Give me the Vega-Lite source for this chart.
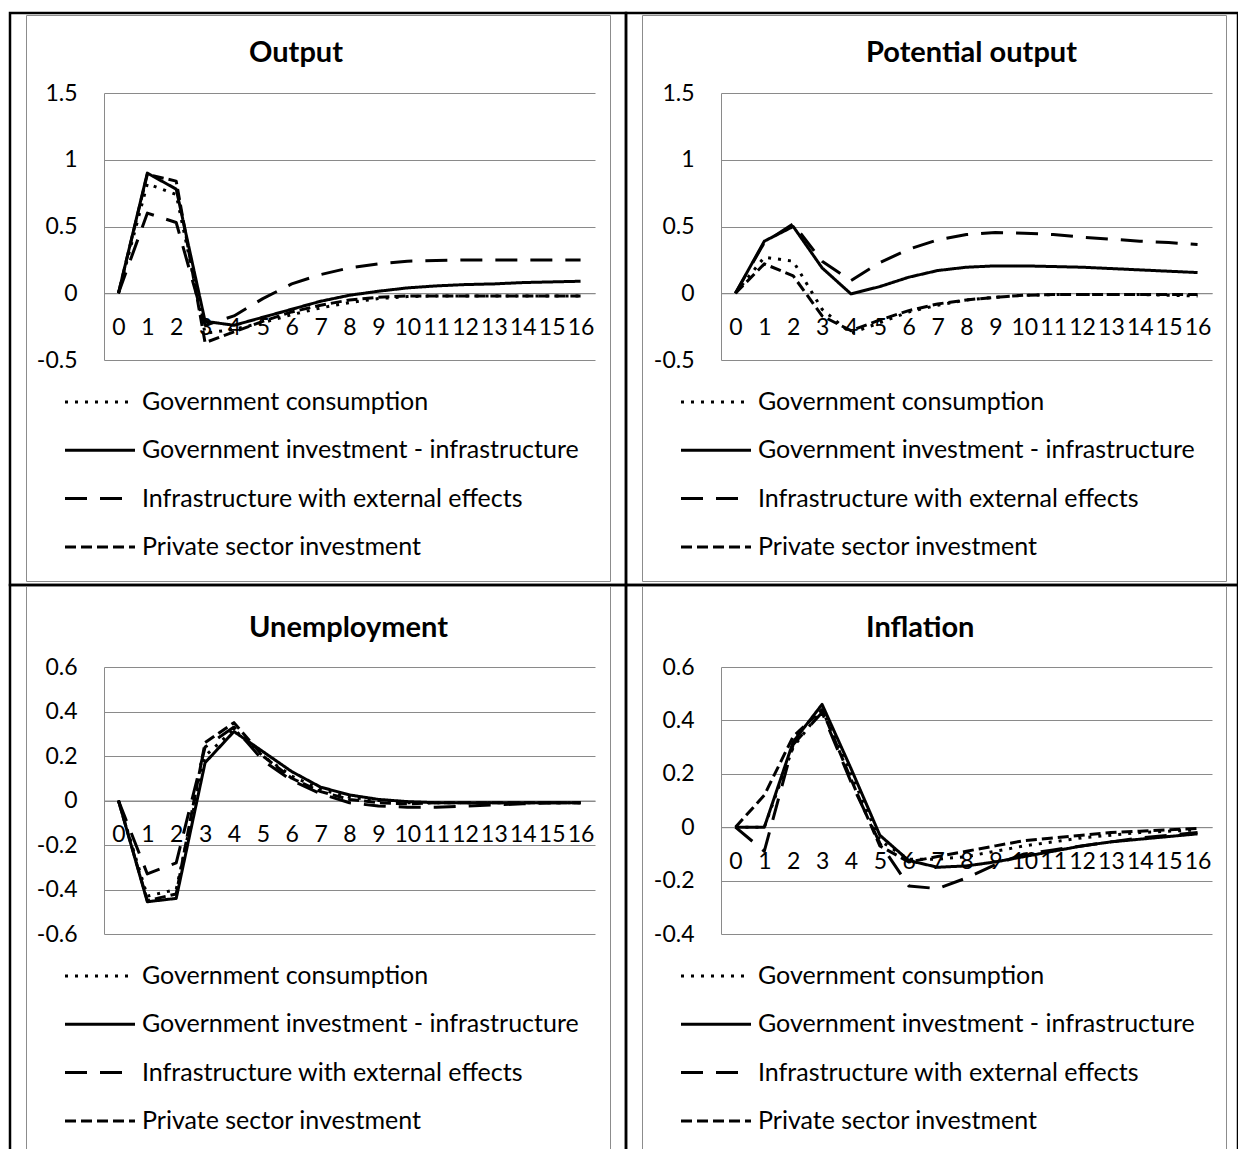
{
  "$schema": "https://vega.github.io/schema/vega-lite/v6.json",
  "padding": {"left": 8, "top": 11, "right": 0, "bottom": 0},
  "background": "white",
  "bounds": "flush",
  "spacing": 0,
  "columns": 2,
  "resolve": {"scale": {"strokeDash": "independent"}, "legend": {"strokeDash": "independent"}},
  "config": {
    "font": "Lato",
    "view": {"stroke": "black", "strokeWidth": 2.5},
    "concat": {"spacing": 0},
    "line": {"color": "black", "strokeWidth": 3, "strokeJoin": "round", "strokeCap": "butt"},
    "axis": {"title": null, "ticks": false, "tickSize": 0, "domainColor": "#8a8a8a", "domainWidth": 1, "gridColor": "#8a8a8a", "gridWidth": 1, "labelFont": "Lato", "labelFontSize": 23, "labelColor": "black", "labelOverlap": false, "labelFlush": false, "labelBound": false},
    "axisX": {"grid": false, "labelPadding": 23},
    "axisY": {"grid": true, "labelPadding": 27},
    "title": {"font": "Lato", "fontSize": 29, "fontWeight": "bold", "color": "black", "anchor": "start", "frame": "group", "baseline": "middle", "offset": 0},
    "legend": {"orient": "none", "direction": "vertical", "padding": 21, "strokeColor": "#8c8c8c", "symbolType": "M-1.4,0L1.4,0M19.48,0", "symbolSize": 2500, "symbolStrokeWidth": 3, "symbolStrokeColor": "black", "symbolOffset": 26.5, "labelFont": "Lato", "labelFontSize": 25, "labelColor": "black", "labelOffset": 15.5, "labelLimit": 700, "titleFontSize": 30}
  },
  "data": {"values": [
    {"panel":"Output","series":"Government consumption","t":0,"value":0},
    {"panel":"Output","series":"Government consumption","t":1,"value":0.82},
    {"panel":"Output","series":"Government consumption","t":2,"value":0.74},
    {"panel":"Output","series":"Government consumption","t":3,"value":-0.30},
    {"panel":"Output","series":"Government consumption","t":4,"value":-0.27},
    {"panel":"Output","series":"Government consumption","t":5,"value":-0.22},
    {"panel":"Output","series":"Government consumption","t":6,"value":-0.16},
    {"panel":"Output","series":"Government consumption","t":7,"value":-0.11},
    {"panel":"Output","series":"Government consumption","t":8,"value":-0.07},
    {"panel":"Output","series":"Government consumption","t":9,"value":-0.04},
    {"panel":"Output","series":"Government consumption","t":10,"value":-0.025},
    {"panel":"Output","series":"Government consumption","t":11,"value":-0.02},
    {"panel":"Output","series":"Government consumption","t":12,"value":-0.02},
    {"panel":"Output","series":"Government consumption","t":13,"value":-0.02},
    {"panel":"Output","series":"Government consumption","t":14,"value":-0.02},
    {"panel":"Output","series":"Government consumption","t":15,"value":-0.02},
    {"panel":"Output","series":"Government consumption","t":16,"value":-0.02},
    {"panel":"Output","series":"Government investment - infrastructure","t":0,"value":0},
    {"panel":"Output","series":"Government investment - infrastructure","t":1,"value":0.90},
    {"panel":"Output","series":"Government investment - infrastructure","t":2,"value":0.78},
    {"panel":"Output","series":"Government investment - infrastructure","t":3,"value":-0.21},
    {"panel":"Output","series":"Government investment - infrastructure","t":4,"value":-0.24},
    {"panel":"Output","series":"Government investment - infrastructure","t":5,"value":-0.18},
    {"panel":"Output","series":"Government investment - infrastructure","t":6,"value":-0.12},
    {"panel":"Output","series":"Government investment - infrastructure","t":7,"value":-0.06},
    {"panel":"Output","series":"Government investment - infrastructure","t":8,"value":-0.015},
    {"panel":"Output","series":"Government investment - infrastructure","t":9,"value":0.015},
    {"panel":"Output","series":"Government investment - infrastructure","t":10,"value":0.04},
    {"panel":"Output","series":"Government investment - infrastructure","t":11,"value":0.055},
    {"panel":"Output","series":"Government investment - infrastructure","t":12,"value":0.065},
    {"panel":"Output","series":"Government investment - infrastructure","t":13,"value":0.07},
    {"panel":"Output","series":"Government investment - infrastructure","t":14,"value":0.08},
    {"panel":"Output","series":"Government investment - infrastructure","t":15,"value":0.085},
    {"panel":"Output","series":"Government investment - infrastructure","t":16,"value":0.09},
    {"panel":"Output","series":"Infrastructure with external effects","t":0,"value":0},
    {"panel":"Output","series":"Infrastructure with external effects","t":1,"value":0.60},
    {"panel":"Output","series":"Infrastructure with external effects","t":2,"value":0.53},
    {"panel":"Output","series":"Infrastructure with external effects","t":3,"value":-0.24},
    {"panel":"Output","series":"Infrastructure with external effects","t":4,"value":-0.17},
    {"panel":"Output","series":"Infrastructure with external effects","t":5,"value":-0.04},
    {"panel":"Output","series":"Infrastructure with external effects","t":6,"value":0.07},
    {"panel":"Output","series":"Infrastructure with external effects","t":7,"value":0.14},
    {"panel":"Output","series":"Infrastructure with external effects","t":8,"value":0.19},
    {"panel":"Output","series":"Infrastructure with external effects","t":9,"value":0.22},
    {"panel":"Output","series":"Infrastructure with external effects","t":10,"value":0.24},
    {"panel":"Output","series":"Infrastructure with external effects","t":11,"value":0.245},
    {"panel":"Output","series":"Infrastructure with external effects","t":12,"value":0.25},
    {"panel":"Output","series":"Infrastructure with external effects","t":13,"value":0.25},
    {"panel":"Output","series":"Infrastructure with external effects","t":14,"value":0.25},
    {"panel":"Output","series":"Infrastructure with external effects","t":15,"value":0.25},
    {"panel":"Output","series":"Infrastructure with external effects","t":16,"value":0.25},
    {"panel":"Output","series":"Private sector investment","t":0,"value":0},
    {"panel":"Output","series":"Private sector investment","t":1,"value":0.89},
    {"panel":"Output","series":"Private sector investment","t":2,"value":0.84},
    {"panel":"Output","series":"Private sector investment","t":3,"value":-0.37},
    {"panel":"Output","series":"Private sector investment","t":4,"value":-0.29},
    {"panel":"Output","series":"Private sector investment","t":5,"value":-0.21},
    {"panel":"Output","series":"Private sector investment","t":6,"value":-0.14},
    {"panel":"Output","series":"Private sector investment","t":7,"value":-0.09},
    {"panel":"Output","series":"Private sector investment","t":8,"value":-0.05},
    {"panel":"Output","series":"Private sector investment","t":9,"value":-0.03},
    {"panel":"Output","series":"Private sector investment","t":10,"value":-0.02},
    {"panel":"Output","series":"Private sector investment","t":11,"value":-0.02},
    {"panel":"Output","series":"Private sector investment","t":12,"value":-0.02},
    {"panel":"Output","series":"Private sector investment","t":13,"value":-0.02},
    {"panel":"Output","series":"Private sector investment","t":14,"value":-0.02},
    {"panel":"Output","series":"Private sector investment","t":15,"value":-0.02},
    {"panel":"Output","series":"Private sector investment","t":16,"value":-0.02},

    {"panel":"Potential output","series":"Government consumption","t":0,"value":0},
    {"panel":"Potential output","series":"Government consumption","t":1,"value":0.27},
    {"panel":"Potential output","series":"Government consumption","t":2,"value":0.24},
    {"panel":"Potential output","series":"Government consumption","t":3,"value":-0.12},
    {"panel":"Potential output","series":"Government consumption","t":4,"value":-0.30},
    {"panel":"Potential output","series":"Government consumption","t":5,"value":-0.22},
    {"panel":"Potential output","series":"Government consumption","t":6,"value":-0.14},
    {"panel":"Potential output","series":"Government consumption","t":7,"value":-0.09},
    {"panel":"Potential output","series":"Government consumption","t":8,"value":-0.05},
    {"panel":"Potential output","series":"Government consumption","t":9,"value":-0.03},
    {"panel":"Potential output","series":"Government consumption","t":10,"value":-0.015},
    {"panel":"Potential output","series":"Government consumption","t":11,"value":-0.01},
    {"panel":"Potential output","series":"Government consumption","t":12,"value":-0.01},
    {"panel":"Potential output","series":"Government consumption","t":13,"value":-0.01},
    {"panel":"Potential output","series":"Government consumption","t":14,"value":-0.01},
    {"panel":"Potential output","series":"Government consumption","t":15,"value":-0.015},
    {"panel":"Potential output","series":"Government consumption","t":16,"value":-0.02},
    {"panel":"Potential output","series":"Government investment - infrastructure","t":0,"value":0},
    {"panel":"Potential output","series":"Government investment - infrastructure","t":1,"value":0.39},
    {"panel":"Potential output","series":"Government investment - infrastructure","t":2,"value":0.50},
    {"panel":"Potential output","series":"Government investment - infrastructure","t":3,"value":0.19},
    {"panel":"Potential output","series":"Government investment - infrastructure","t":4,"value":-0.005},
    {"panel":"Potential output","series":"Government investment - infrastructure","t":5,"value":0.05},
    {"panel":"Potential output","series":"Government investment - infrastructure","t":6,"value":0.12},
    {"panel":"Potential output","series":"Government investment - infrastructure","t":7,"value":0.17},
    {"panel":"Potential output","series":"Government investment - infrastructure","t":8,"value":0.195},
    {"panel":"Potential output","series":"Government investment - infrastructure","t":9,"value":0.205},
    {"panel":"Potential output","series":"Government investment - infrastructure","t":10,"value":0.205},
    {"panel":"Potential output","series":"Government investment - infrastructure","t":11,"value":0.20},
    {"panel":"Potential output","series":"Government investment - infrastructure","t":12,"value":0.195},
    {"panel":"Potential output","series":"Government investment - infrastructure","t":13,"value":0.185},
    {"panel":"Potential output","series":"Government investment - infrastructure","t":14,"value":0.175},
    {"panel":"Potential output","series":"Government investment - infrastructure","t":15,"value":0.165},
    {"panel":"Potential output","series":"Government investment - infrastructure","t":16,"value":0.155},
    {"panel":"Potential output","series":"Infrastructure with external effects","t":0,"value":0},
    {"panel":"Potential output","series":"Infrastructure with external effects","t":1,"value":0.38},
    {"panel":"Potential output","series":"Infrastructure with external effects","t":2,"value":0.52},
    {"panel":"Potential output","series":"Infrastructure with external effects","t":3,"value":0.24},
    {"panel":"Potential output","series":"Infrastructure with external effects","t":4,"value":0.095},
    {"panel":"Potential output","series":"Infrastructure with external effects","t":5,"value":0.23},
    {"panel":"Potential output","series":"Infrastructure with external effects","t":6,"value":0.33},
    {"panel":"Potential output","series":"Infrastructure with external effects","t":7,"value":0.40},
    {"panel":"Potential output","series":"Infrastructure with external effects","t":8,"value":0.44},
    {"panel":"Potential output","series":"Infrastructure with external effects","t":9,"value":0.455},
    {"panel":"Potential output","series":"Infrastructure with external effects","t":10,"value":0.45},
    {"panel":"Potential output","series":"Infrastructure with external effects","t":11,"value":0.44},
    {"panel":"Potential output","series":"Infrastructure with external effects","t":12,"value":0.42},
    {"panel":"Potential output","series":"Infrastructure with external effects","t":13,"value":0.405},
    {"panel":"Potential output","series":"Infrastructure with external effects","t":14,"value":0.39},
    {"panel":"Potential output","series":"Infrastructure with external effects","t":15,"value":0.38},
    {"panel":"Potential output","series":"Infrastructure with external effects","t":16,"value":0.365},
    {"panel":"Potential output","series":"Private sector investment","t":0,"value":0},
    {"panel":"Potential output","series":"Private sector investment","t":1,"value":0.22},
    {"panel":"Potential output","series":"Private sector investment","t":2,"value":0.13},
    {"panel":"Potential output","series":"Private sector investment","t":3,"value":-0.17},
    {"panel":"Potential output","series":"Private sector investment","t":4,"value":-0.28},
    {"panel":"Potential output","series":"Private sector investment","t":5,"value":-0.20},
    {"panel":"Potential output","series":"Private sector investment","t":6,"value":-0.13},
    {"panel":"Potential output","series":"Private sector investment","t":7,"value":-0.08},
    {"panel":"Potential output","series":"Private sector investment","t":8,"value":-0.05},
    {"panel":"Potential output","series":"Private sector investment","t":9,"value":-0.03},
    {"panel":"Potential output","series":"Private sector investment","t":10,"value":-0.015},
    {"panel":"Potential output","series":"Private sector investment","t":11,"value":-0.01},
    {"panel":"Potential output","series":"Private sector investment","t":12,"value":-0.01},
    {"panel":"Potential output","series":"Private sector investment","t":13,"value":-0.01},
    {"panel":"Potential output","series":"Private sector investment","t":14,"value":-0.01},
    {"panel":"Potential output","series":"Private sector investment","t":15,"value":-0.01},
    {"panel":"Potential output","series":"Private sector investment","t":16,"value":-0.01},

    {"panel":"Unemployment","series":"Government consumption","t":0,"value":0},
    {"panel":"Unemployment","series":"Government consumption","t":1,"value":-0.43},
    {"panel":"Unemployment","series":"Government consumption","t":2,"value":-0.40},
    {"panel":"Unemployment","series":"Government consumption","t":3,"value":0.20},
    {"panel":"Unemployment","series":"Government consumption","t":4,"value":0.32},
    {"panel":"Unemployment","series":"Government consumption","t":5,"value":0.20},
    {"panel":"Unemployment","series":"Government consumption","t":6,"value":0.11},
    {"panel":"Unemployment","series":"Government consumption","t":7,"value":0.05},
    {"panel":"Unemployment","series":"Government consumption","t":8,"value":0.015},
    {"panel":"Unemployment","series":"Government consumption","t":9,"value":0},
    {"panel":"Unemployment","series":"Government consumption","t":10,"value":-0.01},
    {"panel":"Unemployment","series":"Government consumption","t":11,"value":-0.01},
    {"panel":"Unemployment","series":"Government consumption","t":12,"value":-0.01},
    {"panel":"Unemployment","series":"Government consumption","t":13,"value":-0.01},
    {"panel":"Unemployment","series":"Government consumption","t":14,"value":-0.01},
    {"panel":"Unemployment","series":"Government consumption","t":15,"value":-0.01},
    {"panel":"Unemployment","series":"Government consumption","t":16,"value":-0.01},
    {"panel":"Unemployment","series":"Government investment - infrastructure","t":0,"value":0},
    {"panel":"Unemployment","series":"Government investment - infrastructure","t":1,"value":-0.455},
    {"panel":"Unemployment","series":"Government investment - infrastructure","t":2,"value":-0.44},
    {"panel":"Unemployment","series":"Government investment - infrastructure","t":3,"value":0.17},
    {"panel":"Unemployment","series":"Government investment - infrastructure","t":4,"value":0.31},
    {"panel":"Unemployment","series":"Government investment - infrastructure","t":5,"value":0.22},
    {"panel":"Unemployment","series":"Government investment - infrastructure","t":6,"value":0.13},
    {"panel":"Unemployment","series":"Government investment - infrastructure","t":7,"value":0.06},
    {"panel":"Unemployment","series":"Government investment - infrastructure","t":8,"value":0.025},
    {"panel":"Unemployment","series":"Government investment - infrastructure","t":9,"value":0.005},
    {"panel":"Unemployment","series":"Government investment - infrastructure","t":10,"value":-0.005},
    {"panel":"Unemployment","series":"Government investment - infrastructure","t":11,"value":-0.01},
    {"panel":"Unemployment","series":"Government investment - infrastructure","t":12,"value":-0.01},
    {"panel":"Unemployment","series":"Government investment - infrastructure","t":13,"value":-0.01},
    {"panel":"Unemployment","series":"Government investment - infrastructure","t":14,"value":-0.01},
    {"panel":"Unemployment","series":"Government investment - infrastructure","t":15,"value":-0.01},
    {"panel":"Unemployment","series":"Government investment - infrastructure","t":16,"value":-0.01},
    {"panel":"Unemployment","series":"Infrastructure with external effects","t":0,"value":0},
    {"panel":"Unemployment","series":"Infrastructure with external effects","t":1,"value":-0.33},
    {"panel":"Unemployment","series":"Infrastructure with external effects","t":2,"value":-0.28},
    {"panel":"Unemployment","series":"Infrastructure with external effects","t":3,"value":0.24},
    {"panel":"Unemployment","series":"Infrastructure with external effects","t":4,"value":0.33},
    {"panel":"Unemployment","series":"Infrastructure with external effects","t":5,"value":0.18},
    {"panel":"Unemployment","series":"Infrastructure with external effects","t":6,"value":0.09},
    {"panel":"Unemployment","series":"Infrastructure with external effects","t":7,"value":0.03},
    {"panel":"Unemployment","series":"Infrastructure with external effects","t":8,"value":-0.01},
    {"panel":"Unemployment","series":"Infrastructure with external effects","t":9,"value":-0.025},
    {"panel":"Unemployment","series":"Infrastructure with external effects","t":10,"value":-0.03},
    {"panel":"Unemployment","series":"Infrastructure with external effects","t":11,"value":-0.03},
    {"panel":"Unemployment","series":"Infrastructure with external effects","t":12,"value":-0.025},
    {"panel":"Unemployment","series":"Infrastructure with external effects","t":13,"value":-0.02},
    {"panel":"Unemployment","series":"Infrastructure with external effects","t":14,"value":-0.015},
    {"panel":"Unemployment","series":"Infrastructure with external effects","t":15,"value":-0.01},
    {"panel":"Unemployment","series":"Infrastructure with external effects","t":16,"value":-0.01},
    {"panel":"Unemployment","series":"Private sector investment","t":0,"value":0},
    {"panel":"Unemployment","series":"Private sector investment","t":1,"value":-0.45},
    {"panel":"Unemployment","series":"Private sector investment","t":2,"value":-0.42},
    {"panel":"Unemployment","series":"Private sector investment","t":3,"value":0.26},
    {"panel":"Unemployment","series":"Private sector investment","t":4,"value":0.35},
    {"panel":"Unemployment","series":"Private sector investment","t":5,"value":0.20},
    {"panel":"Unemployment","series":"Private sector investment","t":6,"value":0.10},
    {"panel":"Unemployment","series":"Private sector investment","t":7,"value":0.04},
    {"panel":"Unemployment","series":"Private sector investment","t":8,"value":0.005},
    {"panel":"Unemployment","series":"Private sector investment","t":9,"value":-0.01},
    {"panel":"Unemployment","series":"Private sector investment","t":10,"value":-0.015},
    {"panel":"Unemployment","series":"Private sector investment","t":11,"value":-0.01},
    {"panel":"Unemployment","series":"Private sector investment","t":12,"value":-0.01},
    {"panel":"Unemployment","series":"Private sector investment","t":13,"value":-0.01},
    {"panel":"Unemployment","series":"Private sector investment","t":14,"value":-0.01},
    {"panel":"Unemployment","series":"Private sector investment","t":15,"value":-0.01},
    {"panel":"Unemployment","series":"Private sector investment","t":16,"value":-0.01},

    {"panel":"Inflation","series":"Government consumption","t":0,"value":0},
    {"panel":"Inflation","series":"Government consumption","t":1,"value":0},
    {"panel":"Inflation","series":"Government consumption","t":2,"value":0.30},
    {"panel":"Inflation","series":"Government consumption","t":3,"value":0.44},
    {"panel":"Inflation","series":"Government consumption","t":4,"value":0.20},
    {"panel":"Inflation","series":"Government consumption","t":5,"value":-0.05},
    {"panel":"Inflation","series":"Government consumption","t":6,"value":-0.12},
    {"panel":"Inflation","series":"Government consumption","t":7,"value":-0.12},
    {"panel":"Inflation","series":"Government consumption","t":8,"value":-0.11},
    {"panel":"Inflation","series":"Government consumption","t":9,"value":-0.09},
    {"panel":"Inflation","series":"Government consumption","t":10,"value":-0.07},
    {"panel":"Inflation","series":"Government consumption","t":11,"value":-0.055},
    {"panel":"Inflation","series":"Government consumption","t":12,"value":-0.04},
    {"panel":"Inflation","series":"Government consumption","t":13,"value":-0.03},
    {"panel":"Inflation","series":"Government consumption","t":14,"value":-0.02},
    {"panel":"Inflation","series":"Government consumption","t":15,"value":-0.015},
    {"panel":"Inflation","series":"Government consumption","t":16,"value":-0.01},
    {"panel":"Inflation","series":"Government investment - infrastructure","t":0,"value":0},
    {"panel":"Inflation","series":"Government investment - infrastructure","t":1,"value":0},
    {"panel":"Inflation","series":"Government investment - infrastructure","t":2,"value":0.32},
    {"panel":"Inflation","series":"Government investment - infrastructure","t":3,"value":0.46},
    {"panel":"Inflation","series":"Government investment - infrastructure","t":4,"value":0.22},
    {"panel":"Inflation","series":"Government investment - infrastructure","t":5,"value":-0.03},
    {"panel":"Inflation","series":"Government investment - infrastructure","t":6,"value":-0.125},
    {"panel":"Inflation","series":"Government investment - infrastructure","t":7,"value":-0.15},
    {"panel":"Inflation","series":"Government investment - infrastructure","t":8,"value":-0.145},
    {"panel":"Inflation","series":"Government investment - infrastructure","t":9,"value":-0.13},
    {"panel":"Inflation","series":"Government investment - infrastructure","t":10,"value":-0.11},
    {"panel":"Inflation","series":"Government investment - infrastructure","t":11,"value":-0.09},
    {"panel":"Inflation","series":"Government investment - infrastructure","t":12,"value":-0.07},
    {"panel":"Inflation","series":"Government investment - infrastructure","t":13,"value":-0.055},
    {"panel":"Inflation","series":"Government investment - infrastructure","t":14,"value":-0.045},
    {"panel":"Inflation","series":"Government investment - infrastructure","t":15,"value":-0.035},
    {"panel":"Inflation","series":"Government investment - infrastructure","t":16,"value":-0.025},
    {"panel":"Inflation","series":"Infrastructure with external effects","t":0,"value":0},
    {"panel":"Inflation","series":"Infrastructure with external effects","t":1,"value":-0.09},
    {"panel":"Inflation","series":"Infrastructure with external effects","t":2,"value":0.31},
    {"panel":"Inflation","series":"Infrastructure with external effects","t":3,"value":0.43},
    {"panel":"Inflation","series":"Infrastructure with external effects","t":4,"value":0.17},
    {"panel":"Inflation","series":"Infrastructure with external effects","t":5,"value":-0.06},
    {"panel":"Inflation","series":"Infrastructure with external effects","t":6,"value":-0.22},
    {"panel":"Inflation","series":"Infrastructure with external effects","t":7,"value":-0.23},
    {"panel":"Inflation","series":"Infrastructure with external effects","t":8,"value":-0.19},
    {"panel":"Inflation","series":"Infrastructure with external effects","t":9,"value":-0.14},
    {"panel":"Inflation","series":"Infrastructure with external effects","t":10,"value":-0.10},
    {"panel":"Inflation","series":"Infrastructure with external effects","t":11,"value":-0.085},
    {"panel":"Inflation","series":"Infrastructure with external effects","t":12,"value":-0.07},
    {"panel":"Inflation","series":"Infrastructure with external effects","t":13,"value":-0.055},
    {"panel":"Inflation","series":"Infrastructure with external effects","t":14,"value":-0.04},
    {"panel":"Inflation","series":"Infrastructure with external effects","t":15,"value":-0.03},
    {"panel":"Inflation","series":"Infrastructure with external effects","t":16,"value":-0.02},
    {"panel":"Inflation","series":"Private sector investment","t":0,"value":0},
    {"panel":"Inflation","series":"Private sector investment","t":1,"value":0.12},
    {"panel":"Inflation","series":"Private sector investment","t":2,"value":0.34},
    {"panel":"Inflation","series":"Private sector investment","t":3,"value":0.44},
    {"panel":"Inflation","series":"Private sector investment","t":4,"value":0.18},
    {"panel":"Inflation","series":"Private sector investment","t":5,"value":-0.07},
    {"panel":"Inflation","series":"Private sector investment","t":6,"value":-0.13},
    {"panel":"Inflation","series":"Private sector investment","t":7,"value":-0.11},
    {"panel":"Inflation","series":"Private sector investment","t":8,"value":-0.09},
    {"panel":"Inflation","series":"Private sector investment","t":9,"value":-0.07},
    {"panel":"Inflation","series":"Private sector investment","t":10,"value":-0.05},
    {"panel":"Inflation","series":"Private sector investment","t":11,"value":-0.04},
    {"panel":"Inflation","series":"Private sector investment","t":12,"value":-0.03},
    {"panel":"Inflation","series":"Private sector investment","t":13,"value":-0.02},
    {"panel":"Inflation","series":"Private sector investment","t":14,"value":-0.015},
    {"panel":"Inflation","series":"Private sector investment","t":15,"value":-0.01},
    {"panel":"Inflation","series":"Private sector investment","t":16,"value":-0.005}
  ]},
  "concat": [
    {
      "width": 616, "height": 572,
      "transform": [{"filter": "datum.panel === 'Output'"}],
      "title": {"text": "Output", "dx": 239, "dy": 59},
      "mark": {"type": "line"},
      "encoding": {
        "x": {"field": "t", "type": "quantitative", "scale": {"domain": [-0.5, 16.5], "range": [94, 585], "nice": false, "zero": false}, "axis": {"values": [0,1,2,3,4,5,6,7,8,9,10,11,12,13,14,15,16], "format": "d", "offset": -291.75}},
        "y": {"field": "value", "type": "quantitative", "scale": {"domain": [-0.5, 1.5], "range": [347, 80], "nice": false, "zero": false}, "axis": {"values": [-0.5, 0, 0.5, 1, 1.5], "format": "~g", "labelExpr": "replace(datum.label, '\u2212', '-')", "offset": -94}},
        "strokeDash": {"field": "series", "type": "nominal", "scale": {"domain": ["Government consumption", "Government investment - infrastructure", "Infrastructure with external effects", "Private sector investment"], "range": [[3, 7], [1, 0], [22, 13], [11, 5]]}, "legend": {"title": "\u00a0", "legendX": 16, "legendY": 2, "titlePadding": 309.5, "rowPadding": 8.3, "encode": {"legend": {"update": {"strokeWidth": {"value": 2}}}}}}
      }
    },
    {
      "width": 612, "height": 572,
      "transform": [{"filter": "datum.panel === 'Potential output'"}],
      "title": {"text": "Potential output", "dx": 240, "dy": 59},
      "mark": {"type": "line"},
      "encoding": {
        "x": {"field": "t", "type": "quantitative", "scale": {"domain": [-0.5, 16.5], "range": [95, 586], "nice": false, "zero": false}, "axis": {"values": [0,1,2,3,4,5,6,7,8,9,10,11,12,13,14,15,16], "format": "d", "offset": -291.75}},
        "y": {"field": "value", "type": "quantitative", "scale": {"domain": [-0.5, 1.5], "range": [347, 80], "nice": false, "zero": false}, "axis": {"values": [-0.5, 0, 0.5, 1, 1.5], "format": "~g", "labelExpr": "replace(datum.label, '\u2212', '-')", "offset": -95}},
        "strokeDash": {"field": "series", "type": "nominal", "scale": {"domain": ["Government consumption", "Government investment - infrastructure", "Infrastructure with external effects", "Private sector investment"], "range": [[3, 7], [1, 0], [22, 13], [11, 5]]}, "legend": {"title": "\u00a0", "legendX": 16, "legendY": 2, "titlePadding": 309.5, "rowPadding": 8.3, "encode": {"legend": {"update": {"strokeWidth": {"value": 2}}}}}}
      }
    },
    {
      "width": 616, "height": 600,
      "transform": [{"filter": "datum.panel === 'Unemployment'"}],
      "title": {"text": "Unemployment", "dx": 239, "dy": 62},
      "mark": {"type": "line"},
      "encoding": {
        "x": {"field": "t", "type": "quantitative", "scale": {"domain": [-0.5, 16.5], "range": [94, 585], "nice": false, "zero": false}, "axis": {"values": [0,1,2,3,4,5,6,7,8,9,10,11,12,13,14,15,16], "format": "d", "offset": -384.5}},
        "y": {"field": "value", "type": "quantitative", "scale": {"domain": [-0.6, 0.6], "range": [349, 82], "nice": false, "zero": false}, "axis": {"values": [-0.6, -0.4, -0.2, 0, 0.2, 0.4, 0.6], "format": "~g", "labelExpr": "replace(datum.label, '\u2212', '-')", "offset": -94}},
        "strokeDash": {"field": "series", "type": "nominal", "scale": {"domain": ["Government consumption", "Government investment - infrastructure", "Infrastructure with external effects", "Private sector investment"], "range": [[3, 7], [1, 0], [22, 13], [11, 5]]}, "legend": {"title": "\u00a0", "legendX": 16, "legendY": 1, "titlePadding": 312.5, "rowPadding": 8.3, "encode": {"legend": {"update": {"strokeWidth": {"value": 2}}}}}}
      }
    },
    {
      "width": 612, "height": 600,
      "transform": [{"filter": "datum.panel === 'Inflation'"}],
      "title": {"text": "Inflation", "dx": 240, "dy": 62},
      "mark": {"type": "line"},
      "encoding": {
        "x": {"field": "t", "type": "quantitative", "scale": {"domain": [-0.5, 16.5], "range": [95, 586], "nice": false, "zero": false}, "axis": {"values": [0,1,2,3,4,5,6,7,8,9,10,11,12,13,14,15,16], "format": "d", "offset": -357.8}},
        "y": {"field": "value", "type": "quantitative", "scale": {"domain": [-0.4, 0.6], "range": [349, 82], "nice": false, "zero": false}, "axis": {"values": [-0.4, -0.2, 0, 0.2, 0.4, 0.6], "format": "~g", "labelExpr": "replace(datum.label, '\u2212', '-')", "offset": -95}},
        "strokeDash": {"field": "series", "type": "nominal", "scale": {"domain": ["Government consumption", "Government investment - infrastructure", "Infrastructure with external effects", "Private sector investment"], "range": [[3, 7], [1, 0], [22, 13], [11, 5]]}, "legend": {"title": "\u00a0", "legendX": 16, "legendY": 1, "titlePadding": 312.5, "rowPadding": 8.3, "encode": {"legend": {"update": {"strokeWidth": {"value": 2}}}}}}
      }
    }
  ]
}
